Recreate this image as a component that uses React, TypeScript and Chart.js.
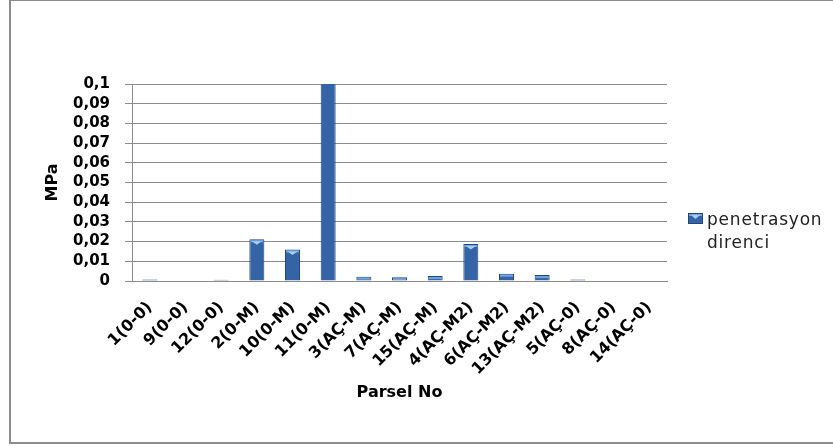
import React, { useEffect, useRef } from 'react';
import { Chart, registerables } from 'chart.js';

Chart.register(...registerables);

// Parcel labels along the x axis
const categories = [
  '1(0-0)', '9(0-0)', '12(0-0)', '2(0-M)', '10(0-M)', '11(0-M)',
  '3(AÇ-M)', '7(AÇ-M)', '15(AÇ-M)', '4(AÇ-M2)', '6(AÇ-M2)', '13(AÇ-M2)',
  '5(AÇ-0)', '8(AÇ-0)', '14(AÇ-0)',
];

// Penetration resistance per parcel (MPa)
const penetrasyonDirenci = [
  0.0007, 0.0002, 0.0006, 0.0212, 0.016, 0.11,
  0.0022, 0.0019, 0.0025, 0.0188, 0.0037, 0.003,
  0.0008, 0.0002, 0.0003,
];

const yTickLabels = ['0', '0,01', '0,02', '0,03', '0,04', '0,05', '0,06', '0,07', '0,08', '0,09', '0,1'];
const seriesLabelLines = ['penetrasyon', 'direnci'];
const yTitle = 'MPa';
const xTitle = 'Parsel No';

const BAR = '#3464a6';
const BAR_EDGE = '#22467a';
const BAR_LIGHT = '#6fa6e2';
const BAR_HILITE = '#a6d0f5';
const GRID = '#8c8c8c';

// Bevel highlight on top of each bar plus a hand-drawn two-line legend
const bevelAndLegend = {
  id: 'bevelAndLegend',
  afterDatasetsDraw(chart: any) {
    const { ctx, chartArea } = chart;
    const meta = chart.getDatasetMeta(0);
    ctx.save();
    meta.data.forEach((bar: any) => {
      const { x, y, base, width } = bar.getProps(['x', 'y', 'base', 'width'], true);
      if (y < chartArea.top) return;
      const h = base - y;
      const l = x - width / 2;
      if (h < 2) return;
      ctx.fillStyle = BAR_LIGHT;
      ctx.fillRect(l + 1, y + 1, width - 2, Math.min(2, h - 1.5));
      if (h > 8) {
        ctx.fillStyle = BAR_HILITE;
        ctx.beginPath();
        ctx.moveTo(l + 2.5, y + 2);
        ctx.lineTo(l + width - 2.5, y + 2);
        ctx.lineTo(x, y + 5.5);
        ctx.closePath();
        ctx.fill();
      }
    });

    // legend
    const bx = 688, by = 213, bw = 15, bh = 11;
    ctx.fillStyle = BAR;
    ctx.fillRect(bx, by, bw, bh);
    ctx.strokeStyle = BAR_EDGE;
    ctx.lineWidth = 1;
    ctx.strokeRect(bx + 0.5, by + 0.5, bw - 1, bh - 1);
    ctx.fillStyle = BAR_LIGHT;
    ctx.fillRect(bx + 1, by + 1, bw - 2, 2);
    ctx.fillStyle = BAR_HILITE;
    ctx.beginPath();
    ctx.moveTo(bx + 3, by + 2);
    ctx.lineTo(bx + bw - 3, by + 2);
    ctx.lineTo(bx + bw / 2, by + 6);
    ctx.closePath();
    ctx.fill();

    ctx.fillStyle = '#222';
    ctx.font = '17px "DejaVu Sans"';
    (ctx as any).letterSpacing = '0.8px';
    ctx.textAlign = 'left';
    ctx.textBaseline = 'alphabetic';
    seriesLabelLines.forEach((line, i) => {
      ctx.fillText(line, 707, 225 + i * 23);
    });
    ctx.restore();
  },
};

export default function App() {
  const canvasRef = useRef<HTMLCanvasElement | null>(null);

  useEffect(() => {
    const canvas = canvasRef.current;
    if (!canvas) return;
    const chart = new Chart(canvas, {
      type: 'bar',
      data: {
        labels: categories,
        datasets: [
          {
            label: seriesLabelLines.join(' '),
            data: penetrasyonDirenci,
            backgroundColor: BAR,
            borderColor: BAR_EDGE,
            borderWidth: 1,
            barPercentage: 0.42,
            categoryPercentage: 1,
          },
        ],
      },
      options: {
        responsive: false,
        animation: false,
        layout: { padding: { top: 84, right: 166, left: 0, bottom: 0 } },
        plugins: {
          legend: { display: false },
          tooltip: { enabled: false },
        },
        scales: {
          x: {
            grid: { display: false },
            border: { display: true, color: GRID, width: 1 },
            ticks: {
              autoSkip: false,
              minRotation: 45,
              maxRotation: 45,
              padding: 9,
              color: '#000',
              font: { family: '"DejaVu Sans"', size: 16, weight: 'bold' },
            },
            title: {
              display: true,
              text: xTitle,
              color: '#000',
              font: { family: '"DejaVu Sans"', size: 16, weight: 'bold' },
              padding: { top: 0, bottom: 46 },
            },
            afterFit(scale: any) {
              scale.height = 167;
            },
          },
          y: {
            min: 0,
            max: 0.1,
            grid: { color: GRID, lineWidth: 1, tickLength: 7, drawTicks: true },
            border: { display: true, color: GRID, width: 1 },
            ticks: {
              autoSkip: false,
              stepSize: 0.01,
              padding: 15,
              color: '#000',
              font: { family: '"DejaVu Sans"', size: 15, weight: 'bold' },
              callback: (_v: any, i: number) => yTickLabels[i],
            },
            title: {
              display: true,
              text: yTitle,
              color: '#000',
              font: { family: '"DejaVu Sans"', size: 16, weight: 'bold' },
              padding: { top: 43, bottom: 0 },
            },
            afterFit(scale: any) {
              scale.width = 132;
            },
          },
        },
      },
      plugins: [bevelAndLegend],
    });
    return () => chart.destroy();
  }, []);

  return (
    <div style={{ position: 'fixed', left: 0, top: 0, width: 833, height: 448, background: '#fff' }}>
      <canvas ref={canvasRef} width={833} height={448} style={{ display: 'block' }} />
      <div
        style={{
          position: 'absolute',
          left: 9,
          top: 0,
          width: 840,
          height: 444,
          boxSizing: 'border-box',
          borderLeft: '2px solid #8c8c8c',
          borderTop: '1px solid #8c8c8c',
          borderBottom: '2px solid #8c8c8c',
          pointerEvents: 'none',
        }}
      />
    </div>
  );
}
